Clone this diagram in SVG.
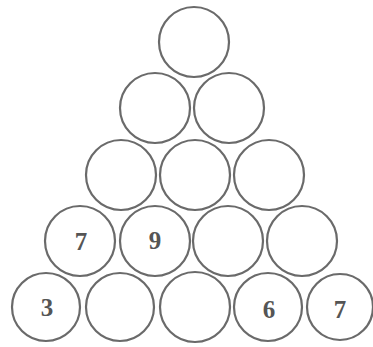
<svg xmlns="http://www.w3.org/2000/svg" width="373" height="347" viewBox="0 0 373 347">
<style>
.c{fill:#fff;stroke:#6a6a6a;stroke-width:2.2}
.t{font-family:"Liberation Serif","DejaVu Serif",serif;font-size:25px;font-weight:bold;fill:#555;text-anchor:middle}
</style>
<rect width="373" height="347" fill="#fff"/>
<g id="connectors"/>
<g id="n1"><circle class="c" cx="194" cy="42" r="35"/></g>
<g id="n2"><circle class="c" cx="155" cy="108" r="35"/></g>
<g id="n3"><circle class="c" cx="229" cy="108" r="35"/></g>
<g id="n4"><circle class="c" cx="121" cy="175" r="35"/></g>
<g id="n5"><circle class="c" cx="195" cy="175" r="35"/></g>
<g id="n6"><circle class="c" cx="269" cy="175" r="35"/></g>
<g id="n7"><circle class="c" cx="80" cy="241" r="35"/><text class="t" x="81" y="250">7</text></g>
<g id="n8"><circle class="c" cx="155" cy="241" r="35"/><text class="t" x="155" y="249">9</text></g>
<g id="n9"><circle class="c" cx="228" cy="241" r="35"/></g>
<g id="n10"><circle class="c" cx="302" cy="241" r="35"/></g>
<g id="n11"><circle class="c" cx="46" cy="307" r="34"/><text class="t" x="47" y="316">3</text></g>
<g id="n12"><circle class="c" cx="120" cy="307" r="34"/></g>
<g id="n13"><circle class="c" cx="195" cy="307" r="35"/></g>
<g id="n14"><circle class="c" cx="268" cy="307" r="34"/><text class="t" x="269" y="318">6</text></g>
<g id="n15"><circle class="c" cx="340" cy="307" r="33"/><text class="t" x="340" y="318">7</text></g>
</svg>
